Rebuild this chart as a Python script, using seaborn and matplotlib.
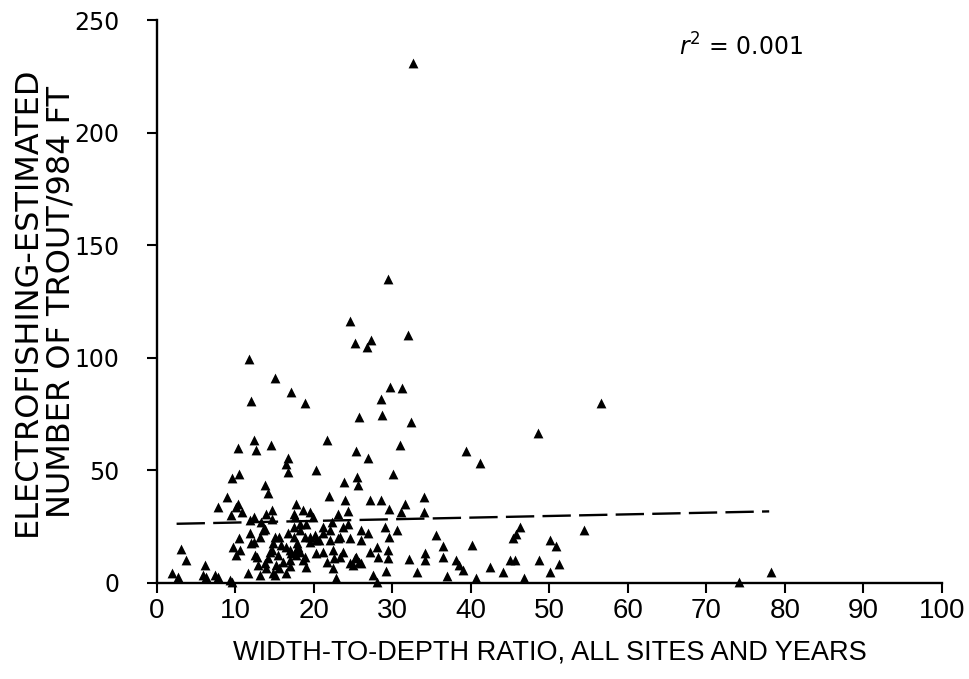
import matplotlib
matplotlib.use("Agg")
import matplotlib.pyplot as plt
import seaborn as sns
import pandas as pd

# width-to-depth ratio and trout estimates
ratio = [
    32.6, 29.4, 24.6, 25.2, 27.3, 26.8, 32.0, 11.7, 15.0, 17.1, 12.0, 18.9, 56.6, 29.7, 31.2,
    28.5, 28.7, 25.7, 32.4, 48.6, 21.6, 30.9, 25.4, 26.9, 39.4, 41.2, 10.3, 12.3, 12.6, 14.5,
    16.7, 16.5, 16.7, 9.5, 10.5, 13.7, 14.2, 8.9, 7.8, 10.3, 9.4, 10.8, 11.8, 13.9, 17.7,
    10.5, 9.7, 11.8, 12.0, 12.7, 13.7, 13.7, 15.0, 14.6, 15.2, 16.5, 16.9, 17.7, 3.0, 3.7,
    6.1, 2.7, 1.9, 6.3, 7.8, 9.5, 11.6, 13.1, 15.0, 17.4, 20.3, 23.8, 25.5, 25.6, 30.1,
    21.9, 24.0, 24.3, 27.2, 28.5, 29.5, 31.6, 31.1, 34.0, 34.0, 18.6, 19.5, 19.9, 23.0, 23.7,
    26.9, 24.6, 26.0, 23.1, 29.0, 29.6, 30.6, 35.6, 28.0, 27.1, 29.4, 29.4, 32.1, 34.1, 34.1,
    29.2, 33.1, 22.4, 22.8, 27.5, 28.0, 25.4, 24.6, 26.0, 22.4, 21.2, 23.3, 18.8, 18.0, 19.5,
    20.3, 17.4, 17.4, 18.2, 19.0, 21.2, 22.0, 22.3, 16.9, 36.5, 36.4, 38.1, 38.5, 39.0, 36.9,
    40.1, 42.4, 40.7, 44.1, 45.0, 45.6, 45.4, 45.7, 46.3, 46.8, 48.7, 50.1, 50.8, 51.2, 50.1,
    54.4, 78.2, 74.2, 10.1, 12.3, 13.3, 14.6, 14.6, 17.6, 13.5, 13.1, 10.6, 10.1, 12.3, 14.8,
    14.4, 14.2, 15.6, 15.8, 15.4, 16.1, 16.7, 17.1, 17.7, 12.5, 12.9, 13.9, 14.8, 15.6, 16.5,
    7.4, 9.3, 5.9, 18.2, 24.3, 23.3, 26.0, 17.8, 18.8, 19.5, 20.1, 20.7, 21.2, 22.0, 16.9,
    18.2, 20.3, 23.7, 22.6, 25.2, 25.8, 25.0, 28.2, 21.6, 19.0, 18.6,
]
trout = [
    231.0, 135.0, 116.5, 106.5, 108.0, 104.6, 110.0, 99.4, 91.0, 85.0, 81.0, 80.0, 80.0, 87.0, 86.6,
    81.7, 74.8, 73.6, 71.7, 66.5, 63.6, 61.5, 58.4, 55.4, 58.4, 53.5, 60.0, 63.3, 59.0, 61.4,
    55.6, 53.0, 49.3, 46.8, 48.2, 43.4, 40.0, 38.2, 33.8, 35.3, 30.1, 31.5, 27.9, 30.8, 35.3,
    19.8, 16.1, 22.0, 17.6, 11.7, 24.2, 8.7, 20.5, 14.6, 8.0, 16.1, 10.2, 14.6, 15.3, 10.2,
    8.0, 2.8, 4.3, 2.8, 2.8, 0.6, 4.3, 3.5, 3.5, 30.8, 50.0, 44.8, 47.0, 43.4, 48.5,
    38.5, 37.0, 32.0, 37.0, 36.7, 33.0, 35.3, 31.5, 38.2, 31.5, 32.3, 31.5, 29.5, 30.8, 24.9,
    22.0, 20.2, 19.3, 20.2, 24.9, 20.5, 23.5, 21.2, 15.8, 13.9, 14.6, 10.9, 10.5, 13.1, 10.2,
    5.5, 5.0, 6.5, 2.0, 3.5, 0.6, 11.7, 8.7, 8.7, 14.6, 13.9, 11.7, 11.7, 16.1, 20.5,
    19.0, 20.5, 24.9, 23.5, 26.4, 24.9, 23.5, 27.1, 7.5, 16.4, 11.7, 10.2, 8.0, 5.8, 3.1,
    16.8, 6.9, 2.3, 4.7, 10.2, 10.2, 20.2, 21.8, 24.9, 2.0, 10.2, 19.0, 16.4, 8.4, 5.0,
    23.5, 5.0, 0.6, 33.8, 29.4, 27.1, 32.3, 28.6, 29.4, 23.5, 20.5, 14.6, 12.4, 18.3, 17.6,
    13.9, 10.9, 20.5, 16.8, 12.4, 9.4, 22.0, 13.1, 12.4, 12.4, 8.0, 6.5, 4.3, 6.5, 4.3,
    3.5, 1.3, 3.5, 26.4, 26.4, 20.5, 23.5, 17.6, 20.5, 18.3, 21.2, 19.0, 22.0, 19.0, 14.6,
    13.9, 13.1, 13.9, 10.9, 10.9, 9.4, 8.0, 11.7, 9.4, 7.3, 10.2,
]

# regression line end points (dashed), and fit statistic
fit_x = [2.5, 78.0]
fit_y = [26.3, 31.8]
r_squared = "0.001"

df = pd.DataFrame({"ratio": ratio, "trout": trout})
fit = pd.DataFrame({"x": fit_x, "y": fit_y})

sns.set_style("ticks", {"axes.edgecolor": "black", "text.color": "black",
                        "axes.labelcolor": "black", "xtick.color": "black",
                        "ytick.color": "black"})
plt.rcParams["font.family"] = ["Liberation Sans", "DejaVu Sans"]

fig = plt.figure(figsize=(9.69, 6.79), dpi=100)
ax = fig.add_axes([0.162, 0.1414, 0.810, 0.829])

sns.lineplot(data=fit, x="x", y="y", color="black", linewidth=1.7,
             linestyle=(0, (12, 3.5)), ax=ax)
sns.scatterplot(data=df, x="ratio", y="trout", marker="^", color="black",
                s=50, linewidth=0, clip_on=False, ax=ax, zorder=3)

ax.set_xlim(0, 100)
ax.set_ylim(0, 250)
ax.set_xticks(range(0, 101, 10))
ax.set_yticks(range(0, 251, 50))
sns.despine(ax=ax)
for sp in ["left", "bottom"]:
    ax.spines[sp].set_linewidth(1.7)
ax.tick_params(axis="both", direction="out", length=7, width=1.5, colors="black")
ax.tick_params(axis="x", pad=4)
ax.tick_params(axis="y", pad=20)

# x tick numbers are tall and narrow, y tick numbers broad in the scan
plt.setp(ax.get_xticklabels(), fontsize=20,
         family=["Liberation Sans Narrow", "Liberation Sans"])
plt.setp(ax.get_yticklabels(), fontsize=17, family=["DejaVu Sans"])

ax.set_xlabel("WIDTH-TO-DEPTH RATIO, ALL SITES AND YEARS", fontsize=19.5, labelpad=11)
ax.set_ylabel("ELECTROFISHING-ESTIMATED\nNUMBER OF TROUT/984 FT", fontsize=23,
              family=["DejaVu Sans"], linespacing=1.1)
ax.yaxis.set_label_coords(-0.103, 0.5)

ax.text(66.5, 238, r"$r^2$ = " + r_squared, fontsize=17, va="center", ha="left",
        family=["DejaVu Sans"], color="black")

fig.savefig("out.png", dpi=100)
